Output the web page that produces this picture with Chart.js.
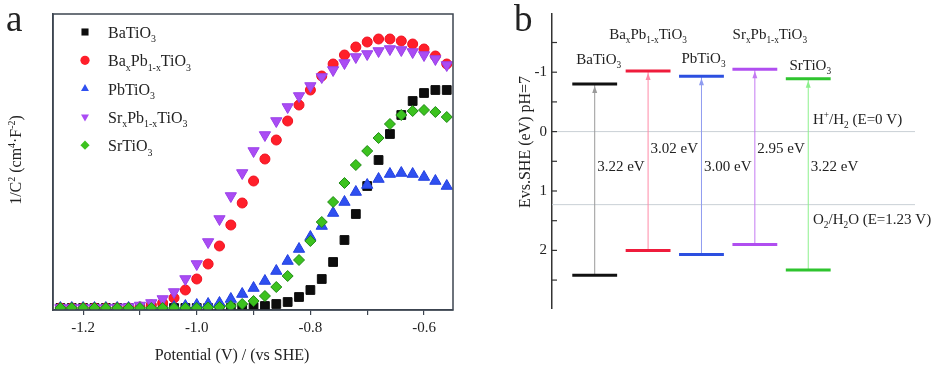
<!DOCTYPE html>
<html>
<head>
<meta charset="utf-8">
<script src="https://cdn.jsdelivr.net/npm/chart.js@4.4.1/dist/chart.umd.min.js"></script>
<style>
  html, body { margin: 0; padding: 0; background: #fff; }
  #wrap { position: relative; width: 932px; height: 369px; }
  #chartA { position: absolute; left: 0; top: 0; }
  #chartB { position: absolute; left: 470px; top: 0; }
</style>
</head>
<body>
<div id="wrap">
  <canvas id="chartA" width="470" height="369"></canvas>
  <canvas id="chartB" width="462" height="369"></canvas>
</div>
<script>
// ---- panel a: Mott-Schottky data (y in arbitrary units, no tick labels) ----
var potential = [-1.24, -1.22, -1.20, -1.18, -1.16, -1.14, -1.12, -1.10, -1.08, -1.06,
                 -1.04, -1.02, -1.00, -0.98, -0.96, -0.94, -0.92, -0.90, -0.88, -0.86,
                 -0.84, -0.82, -0.80, -0.78, -0.76, -0.74, -0.72, -0.70, -0.68, -0.66,
                 -0.64, -0.62, -0.60, -0.58, -0.56];
var baTiO3   = [0, 0, 0, 0, 0, 0, 0, 0, 0, 0, 0, 0, 0, 0, 0, 0, 0, 1, 2, 4,
                6, 11, 18, 29, 46, 68, 94, 122, 148, 174, 193, 207, 215, 218, 218];
var baPbTiO3 = [0, 0, 0, 0, 0, 0, 0, 1, 3, 5, 10, 18, 29, 44, 62, 83, 105, 127, 149, 168,
                187, 203, 218, 232, 244, 253, 261, 266, 269, 269, 267, 264, 259, 252, 244];
var pbTiO3   = [0, 0, 0, 0, 0, 0, 0, 0, 0, 0, 1, 2, 3, 4, 5, 9, 14, 20, 27, 37,
                47, 59, 71, 82, 95, 106, 116, 123, 129, 134, 135, 134, 131, 127, 122];
var srPbTiO3 = [0, 0, 0, 0, 0, 0.5, 1, 2.5, 5, 9, 16, 29, 44, 66, 89, 112, 135, 157, 173, 187,
                201, 212, 222, 231, 238, 245, 251, 254, 257, 259, 258, 256, 253, 249, 243];
var srTiO3   = [0, 0, 0, 0, 0, 0, 0, 0, 0, 0, 0, 0, 0, 0.5, 1, 2, 4, 7, 12, 21,
                32, 48, 67, 86, 106, 125, 143, 157, 170, 184, 193, 197, 198, 196, 191];
var seriesNames = ['BaTiO_{3}', 'Ba_{x}Pb_{1-x}TiO_{3}', 'PbTiO_{3}', 'Sr_{x}Pb_{1-x}TiO_{3}', 'SrTiO_{3}'];

// ---- panel b: band edges (eV vs SHE, pH 7) ----
var materials = ['BaTiO_{3}', 'Ba_{x}Pb_{1-x}TiO_{3}', 'PbTiO_{3}', 'Sr_{x}Pb_{1-x}TiO_{3}', 'SrTiO_{3}'];
var cbEdge = [-0.80, -1.02, -0.93, -1.05, -0.89];
var vbEdge = [2.42, 2.00, 2.07, 1.90, 2.33];
var refLevels = [0, 1.23];
var refLabels = ['H^{+}/H_{2} (E=0 V)', 'O_{2}/H_{2}O (E=1.23 V)'];

var SERIF = '"Liberation Serif", "Times New Roman", serif';
var AXIS = '#3d4550';

// small rich text helper: _{sub} and ^{sup}
function richParts(s) {
  var parts = [], re = /([_^])\{([^}]*)\}|([^_^]+)/g, m;
  while ((m = re.exec(s))) {
    if (m[3]) parts.push({ t: m[3], k: 0 });
    else parts.push({ t: m[2], k: m[1] === '_' ? 1 : 2 });
  }
  return parts;
}
function drawRich(c, s, x, y, size, align) {
  var parts = richParts(s), w = 0;
  parts.forEach(function (p) {
    c.font = (p.k ? size * 0.62 : size) + 'px ' + SERIF;
    p.w = c.measureText(p.t).width;
    w += p.w;
  });
  if (align === 'center') x -= w / 2;
  else if (align === 'right') x -= w;
  c.textAlign = 'left';
  c.textBaseline = 'alphabetic';
  parts.forEach(function (p) {
    c.font = (p.k ? size * 0.62 : size) + 'px ' + SERIF;
    var dy = p.k === 1 ? size * 0.28 : (p.k === 2 ? -size * 0.4 : 0);
    c.fillText(p.t, x, y + dy);
    x += p.w;
  });
}

function drawMarker(c, style, x, y, r) {
  c.beginPath();
  if (style === 'rect') {
    var h = r * Math.SQRT1_2;
    c.rect(x - h, y - h, 2 * h, 2 * h);
  } else if (style === 'circle') {
    c.arc(x, y, r, 0, Math.PI * 2);
  } else if (style === 'triangle' || style === 'triangleDown') {
    var s = style === 'triangle' ? 1 : -1;
    c.moveTo(x, y - s * r);
    c.lineTo(x + r * 0.866, y + s * r / 2);
    c.lineTo(x - r * 0.866, y + s * r / 2);
    c.closePath();
  } else {
    c.moveTo(x, y - r); c.lineTo(x + r, y); c.lineTo(x, y + r); c.lineTo(x - r, y);
    c.closePath();
  }
  c.fill();
}

var markerStyle = [
  { fill: '#0d0d0d', line: '#0d0d0d', style: 'rect', r: 6.2, rot: 0, legend: 'rect' },
  { fill: '#ff1f2a', line: '#f01020', style: 'circle', r: 5, rot: 0, legend: 'circle' },
  { fill: '#2f50f0', line: '#2440e0', style: 'triangle', r: 6.5, rot: 0, legend: 'triangle' },
  { fill: '#aa4cf4', line: '#9a40e8', style: 'triangle', r: 6.5, rot: 180, legend: 'triangleDown' },
  { fill: '#3cc21e', line: '#1f8a16', style: 'rectRot', r: 5.5, rot: 0, legend: 'rectRot' }
];
var seriesValues = [baTiO3, baPbTiO3, pbTiO3, srPbTiO3, srTiO3];

var dsA = seriesValues.map(function (vals, i) {
  var st = markerStyle[i];
  return {
    label: seriesNames[i],
    data: potential.map(function (p, k) { return { x: p, y: vals[k] }; }),
    pointStyle: st.style,
    rotation: st.rot,
    pointRadius: st.r,
    backgroundColor: st.fill,
    borderColor: st.line,
    borderWidth: 1,
    order: 5 - i
  };
});

var panelA = {
  id: 'panelA',
  afterDraw: function (chart) {
    var c = chart.ctx, a = chart.chartArea;
    c.save();
    c.strokeStyle = AXIS;
    c.lineWidth = 1.5;
    c.strokeRect(a.left, a.top, a.right - a.left, a.bottom - a.top);
    // legend
    seriesNames.forEach(function (n, i) {
      var y = 32 + i * 28.3;
      c.fillStyle = markerStyle[i].fill;
      drawMarker(c, markerStyle[i].legend, 85, y, markerStyle[i].legend === 'rect' ? 5 : 4.6);
      c.fillStyle = '#222';
      drawRich(c, n, 108, y + 6, 16, 'left');
    });
    c.fillStyle = '#222';
    drawRich(c, 'Potential (V) / (vs SHE)', 232, 360, 16, 'center');
    c.save();
    c.translate(16, 160);
    c.rotate(-Math.PI / 2);
    drawRich(c, '1/C^{2} (cm^{4}\u00b7F^{-2})', 0, 5, 16, 'center');
    c.restore();
    c.font = '37px ' + SERIF;
    c.fillText('a', 6, 31);
    c.restore();
  }
};

new Chart(document.getElementById('chartA'), {
  type: 'scatter',
  data: { datasets: dsA },
  options: {
    responsive: false,
    animation: false,
    layout: { padding: { top: 14, right: 17, left: 0, bottom: 0 } },
    plugins: { legend: { display: false }, tooltip: { enabled: false } },
    scales: {
      x: {
        type: 'linear', min: -1.253, max: -0.549,
        afterFit: function (s) { s.height = 59; },
        grid: { display: true, drawOnChartArea: false, drawTicks: true, tickLength: 5, color: AXIS, lineWidth: 1.2 },
        border: { display: true, color: AXIS, width: 1.5 },
        ticks: {
          stepSize: 0.1, includeBounds: false, padding: 4, color: '#222', autoSkip: false, maxRotation: 0,
          font: { family: SERIF, size: 15 },
          callback: function (v) { return Math.round(v * 10) % 2 === 0 ? v.toFixed(1) : ''; }
        }
      },
      y: {
        min: -2, max: 294,
        afterFit: function (s) { s.width = 53; },
        grid: { display: false, drawTicks: false },
        border: { display: true, color: AXIS, width: 1.5 },
        ticks: { display: false }
      }
    }
  },
  plugins: [panelA]
});

// ---- panel b ----
var bandColors = ['#111111', '#ef1c3c', '#2c4fe0', '#b04ef0', '#2ec42e'];
var arrowColors = ['#9a9a9a', '#ff8aa8', '#8f9cf0', '#c47af2', '#8cf08c'];
var dsB = [];
refLevels.forEach(function (lv) {
  dsB.push({ data: [{ x: -0.8, y: lv }, { x: 6, y: lv }], borderColor: '#c9d0d6', borderWidth: 1, pointRadius: 0, order: 10 });
});
materials.forEach(function (m, i) {
  dsB.push({ data: [{ x: i, y: vbEdge[i] }, { x: i, y: cbEdge[i] }], borderColor: arrowColors[i], borderWidth: 1, pointRadius: 0, order: 5 });
  dsB.push({ data: [{ x: i - 0.42, y: cbEdge[i] }, { x: i + 0.42, y: cbEdge[i] }], borderColor: bandColors[i], borderWidth: 3, pointRadius: 0, order: 1 });
  dsB.push({ data: [{ x: i - 0.42, y: vbEdge[i] }, { x: i + 0.42, y: vbEdge[i] }], borderColor: bandColors[i], borderWidth: 3, pointRadius: 0, order: 1 });
});

var nameDx = [4, 0, 2, 15, 2];
var nameDy = [-20, -32, -13.5, -30, -9];
var gapDy = [39, 21, 39, 21, 39];

var panelB = {
  id: 'panelB',
  afterDraw: function (chart) {
    var c = chart.ctx, xs = chart.scales.x, ys = chart.scales.y, a = chart.chartArea;
    c.save();
    c.strokeStyle = '#333';
    c.lineWidth = 1.2;
    ys.ticks.forEach(function (t) {
      var py = ys.getPixelForValue(t.value);
      c.beginPath(); c.moveTo(a.left, py); c.lineTo(a.left + 5, py); c.stroke();
    });
    materials.forEach(function (m, i) {
      var px = xs.getPixelForValue(i), py = ys.getPixelForValue(cbEdge[i]) + 2;
      c.fillStyle = arrowColors[i];
      c.beginPath(); c.moveTo(px, py); c.lineTo(px - 2.5, py + 7); c.lineTo(px + 2.5, py + 7); c.closePath(); c.fill();
    });
    c.fillStyle = '#222';
    var y0 = ys.getPixelForValue(0);
    materials.forEach(function (m, i) {
      var px = xs.getPixelForValue(i);
      drawRich(c, m, px + nameDx[i], ys.getPixelForValue(cbEdge[i]) + nameDy[i], 15, 'center');
      drawRich(c, (vbEdge[i] - cbEdge[i]).toFixed(2) + ' eV', px + 2.5, y0 + gapDy[i], 15, 'left');
    });
    drawRich(c, refLabels[0], 343, ys.getPixelForValue(refLevels[0]) - 8, 15, 'left');
    drawRich(c, refLabels[1], 343, ys.getPixelForValue(refLevels[1]) + 19, 15, 'left');
    c.save();
    c.translate(52, 142);
    c.rotate(-Math.PI / 2);
    drawRich(c, 'Evs.SHE (eV) pH=7', 0, 8, 16, 'center');
    c.restore();
    c.font = '37px ' + SERIF;
    c.fillText('b', 44, 31);
    c.restore();
  }
};

new Chart(document.getElementById('chartB'), {
  type: 'line',
  data: { datasets: dsB },
  options: {
    responsive: false,
    animation: false,
    layout: { padding: { top: 13, bottom: 61, right: 17, left: 0 } },
    plugins: { legend: { display: false }, tooltip: { enabled: false } },
    scales: {
      x: { type: 'linear', min: -0.8, max: 6.0, display: false },
      y: {
        min: -1.98, max: 2.97, reverse: true,
        afterFit: function (s) { s.width = 82; },
        grid: { display: false, drawTicks: false },
        border: { display: true, color: '#333', width: 1.5 },
        ticks: {
          stepSize: 0.5, includeBounds: false, padding: 5, color: '#222', autoSkip: false,
          font: { family: SERIF, size: 15 },
          callback: function (v) { return Math.abs(v - Math.round(v)) < 1e-6 ? String(Math.round(v)) : ''; }
        }
      }
    }
  },
  plugins: [panelB]
});
</script>
</body>
</html>
